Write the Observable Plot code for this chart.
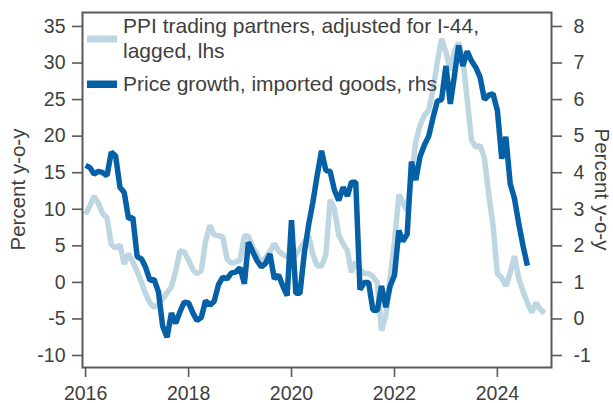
<!DOCTYPE html>
<html>
<head>
<meta charset="utf-8">
<script src="https://cdn.jsdelivr.net/npm/d3@7"></script>
<script src="https://cdn.jsdelivr.net/npm/@observablehq/plot@0.6"></script>
<style>
  html, body { margin: 0; padding: 0; background: #ffffff; }
  #chart { width: 613px; height: 403px; }
</style>
</head>
<body>
<div id="chart"></div>
<script>
// ---- data (monthly, starting January 2016) ----
const startYear = 2016;
const startMonthIndex = 0; // January

// PPI trading partners, adjusted for I-44, lagged (left axis, percent y-o-y)
const ppiLhs = [
  9.3, 10.5, 11.8, 10.8, 9.4, 8.8, 5.2, 4.7, 5.1, 2.5, 3.9, 2.8,
  1.5, 0.0, -1.5, -2.8, -3.4, -3.0, -2.3, -1.4, -0.6, 1.5, 4.3, 4.2,
  3.0, 1.7, 1.2, 1.6, 5.6, 7.8, 6.5, 6.4, 6.2, 3.2, 2.6, 2.8,
  3.0, 6.4, 6.3, 4.8, 3.9, 2.6, 3.4, 4.2, 5.3, 4.3, 3.8, 3.5,
  3.4, 3.8, 4.6, 5.5, 6.4, 3.8, 2.3, 2.2, 3.8, 11.3, 10.0, 6.5,
  5.3, 4.3, 1.4, 2.8, 1.8, 1.2, 1.2, 0.8, 0.0, -6.6, -4.5, 0.8,
  5.5, 12.0, 11.0, 9.7, 14.5, 19.2, 21.5, 22.8, 23.6, 26.3, 30.2, 33.3,
  31.5, 29.0, 31.5, 32.8, 30.5, 25.0, 19.5, 18.5, 18.7, 17.0, 12.0, 7.8,
  1.2, 0.6, -0.5, 1.3, 3.6, 0.5, -1.2, -2.8, -4.1, -2.8, -3.7, -4.2
];

// Price growth, imported goods (right axis, percent y-o-y)
const importRhs = [
  4.20, 4.14, 3.96, 4.04, 4.00, 3.92, 4.56, 4.46, 3.60, 3.46, 2.74, 2.78,
  1.70, 1.64, 1.42, 1.06, 1.08, 0.74, -0.20, -0.50, 0.16, -0.12, 0.20, 0.46,
  0.44, 0.16, -0.04, 0.04, 0.50, 0.38, 0.48, 0.94, 1.14, 1.10, 1.26, 1.28,
  1.40, 0.96, 2.10, 1.84, 1.60, 1.42, 1.52, 1.78, 1.10, 1.20, 0.90, 0.64,
  2.70, 0.70, 0.70, 1.80, 2.56, 3.20, 3.92, 4.60, 4.06, 4.04, 3.52, 3.24,
  3.60, 3.36, 3.74, 3.74, 0.80, 1.00, 1.00, 0.24, 0.24, 0.90, 0.32, 0.90,
  1.20, 2.42, 2.12, 2.32, 4.30, 3.80, 4.44, 4.76, 5.00, 5.50, 5.96, 6.00,
  6.92, 5.88, 6.62, 7.48, 6.92, 7.32, 7.06, 6.88, 6.60, 6.00, 6.12, 6.16,
  5.70, 4.38, 4.98, 3.70, 3.30, 2.60, 2.00, 1.46
];

const leftTicks = [-10, -5, 0, 5, 10, 15, 20, 25, 30, 35];
const rightTicks = [-1, 0, 1, 2, 3, 4, 5, 6, 7, 8];
const xTickYears = [2016, 2018, 2020, 2022, 2024];

const seriesNames = [
  ["PPI trading partners, adjusted for I-44,", "lagged, lhs"],
  ["Price growth, imported goods, rhs"]
];
const axisTitleLeft = "Percent y-o-y";
const axisTitleRight = "Percent y-o-y";

// ---- styling ----
const lightBlue = "#bdd6e2";
const darkBlue = "#0560a6";
const axisGray = "#595959";
const textGray = "#404040";
const font = "'Liberation Sans', Arial, sans-serif";

// right axis value r maps onto left scale as 5*(r-1)
const rhsToLhs = r => (r - 1) * 5;

const monthDate = i => new Date(Date.UTC(startYear, startMonthIndex + i, 1));
const ppiData = ppiLhs.map((v, i) => ({date: monthDate(i), v}));
const impData = importRhs.map((r, i) => ({date: monthDate(i), r}));

const W = 613, H = 403;
const mL = 82, mR = 62, mT = 12, mB = 36;

const svg = Plot.plot({
  width: W,
  height: H,
  marginLeft: mL,
  marginRight: mR,
  marginTop: mT,
  marginBottom: mB,
  style: {fontFamily: font, fontSize: "19.5px", color: textGray, background: "#ffffff", overflow: "visible"},
  x: {type: "utc", domain: [new Date(Date.UTC(2015, 11, 10)), new Date(Date.UTC(2025, 0, 19))]},
  y: {domain: [-11.64, 36.91]},
  marks: [
    Plot.line(ppiData, {x: "date", y: "v", stroke: lightBlue, strokeWidth: 5.5, strokeLinejoin: "miter", strokeLinecap: "butt"}),
    Plot.line(impData, {x: "date", y: d => rhsToLhs(d.r), stroke: darkBlue, strokeWidth: 5.5, strokeLinejoin: "miter", strokeLinecap: "butt"}),
    Plot.frame({stroke: axisGray, strokeWidth: 2}),
    Plot.axisY({anchor: "left", ticks: leftTicks, tickSize: 10, tickPadding: 7, tickFormat: d => String(d), label: null, stroke: axisGray, strokeWidth: 1.6, fill: textGray}),
    Plot.axisY({anchor: "right", ticks: rightTicks.map(rhsToLhs), tickSize: 10, tickPadding: 12, tickFormat: d => String(Math.round(d / 5 + 1)), label: null, stroke: axisGray, strokeWidth: 1.6, fill: textGray}),
    Plot.axisX({ticks: xTickYears.map(y => new Date(Date.UTC(y, 0, 1))), tickSize: 10, tickPadding: 9, tickFormat: d => String(d.getUTCFullYear()), label: null, stroke: axisGray, strokeWidth: 1.6, fill: textGray})
  ]
});

// ---- legend and axis titles ----
const s = d3.select(svg);
const g = s.append("g").attr("font-family", font).attr("fill", textGray).attr("text-anchor", "start");
const legFont = 21;
// entry 1
g.append("rect").attr("x", 87).attr("y", 35.5).attr("width", 30).attr("height", 7).attr("fill", lightBlue);
g.append("text").attr("x", 123).attr("y", 33.3).attr("font-size", legFont).attr("text-anchor", "start").text(seriesNames[0][0]);
g.append("text").attr("x", 123).attr("y", 58.3).attr("font-size", legFont).attr("text-anchor", "start").text(seriesNames[0][1]);
// entry 2
g.append("rect").attr("x", 87).attr("y", 80.5).attr("width", 30).attr("height", 7.5).attr("fill", darkBlue);
g.append("text").attr("x", 123).attr("y", 90.7).attr("font-size", legFont).attr("text-anchor", "start").text(seriesNames[1][0]);

const cy = (mT + (H - mB)) / 2;
g.append("text").attr("font-size", 20.5).attr("text-anchor", "middle")
  .attr("transform", `translate(25,${cy}) rotate(-90)`).text(axisTitleLeft);
g.append("text").attr("font-size", 20.5).attr("text-anchor", "middle")
  .attr("transform", `translate(595,${cy}) rotate(90)`).text(axisTitleRight);

document.getElementById("chart").appendChild(svg);
</script>
</body>
</html>
